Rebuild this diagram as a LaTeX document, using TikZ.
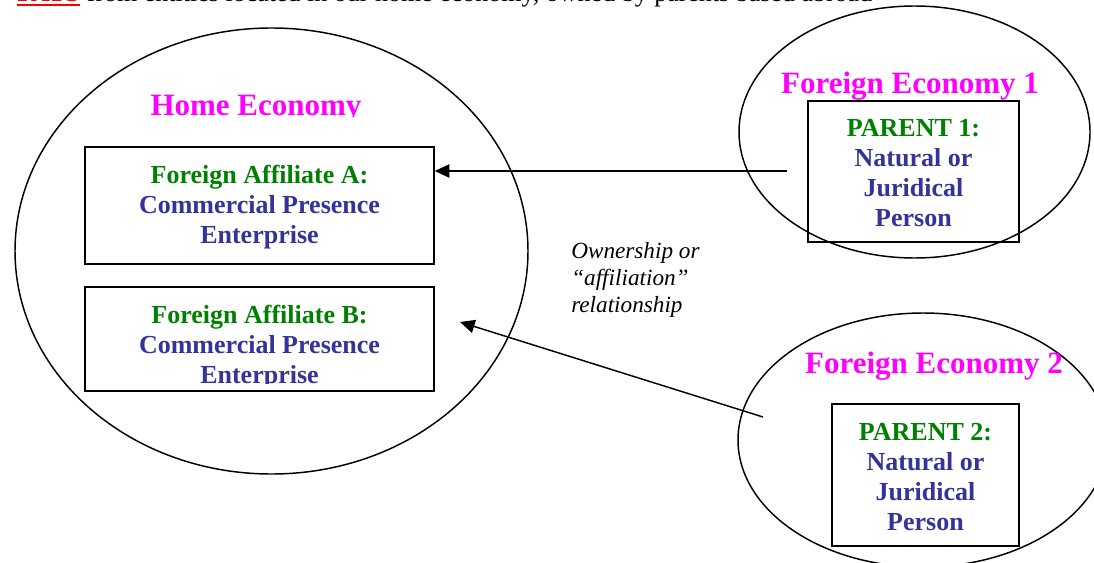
\documentclass[tikz,border=0pt]{standalone}
\usepackage{fontspec}
\setmainfont{Liberation Serif}
\usetikzlibrary{shapes.geometric,arrows.meta}
\definecolor{mag}{RGB}{255,0,255}
\definecolor{grn}{RGB}{0,128,0}
\definecolor{blu}{RGB}{51,51,153}
\begin{document}
\begin{tikzpicture}[x=0.75pt,y=-0.75pt,
  ell/.style={draw, ellipse, line width=1.1pt, inner sep=0pt},
  boxnode/.style={draw, rectangle, line width=1.1pt, inner sep=0pt},
  boxtext/.style={font=\fontsize{19.5}{22.5}\selectfont\bfseries, text=blu, align=center, inner sep=0pt},
  title/.style={font=\fontsize{23.25}{28}\selectfont\bfseries, text=mag, inner sep=0pt, anchor=base},
  arr/.style={line width=1.1pt, -{Triangle[length=11pt,width=10pt]}},
  note/.style={font=\fontsize{17.4}{20.25}\selectfont\itshape, align=left, inner sep=0pt, anchor=base west},
  toptext/.style={font=\fontsize{19.5}{22}\selectfont, inner sep=0pt, anchor=base west}
]
\useasboundingbox (0,0) rectangle (1094,563);
\clip (0,0) rectangle (1094,563);

% top (cut-off) text
\node[toptext, text=red, font=\fontsize{19.5}{22}\selectfont\bfseries] (fats) at (17,2) {FATS};
\node[toptext] (intro) at (fats.base east) {\ from entities located in our home economy, owned by parents based abroad};
\draw[red, line width=1.5pt] ([yshift=-2pt]fats.base west) -- ([yshift=-2pt]fats.base east);

% ellipses
\node[ell, minimum width=384.75pt, minimum height=334.5pt] (home) at (271.5,251) {};
\node[ell, minimum width=263.25pt, minimum height=189pt] (fe1) at (914.5,132) {};
\node[ell, minimum width=277.5pt, minimum height=190.5pt] (fe2) at (923,440) {};

% titles
\begin{scope}
  \clip (0,0) rectangle (540,117);
  \node[title] (hometitle) at (256,116) {Home Economy};
\end{scope}
\node[title] (fe1title) at (910,94) {Foreign Economy 1};
\node[title] (fe2title) at (934,373) {Foreign Economy 2};

% boxes
\node[boxnode, minimum width=261.75pt, minimum height=87.75pt] (boxA) at (259.5,205.5) {};
\node[boxtext] (atext) at (259.5,207.5)
  {\textcolor{grn}{Foreign Affiliate A:}\\Commercial Presence\\Enterprise};
\node[boxnode, minimum width=261.75pt, minimum height=78pt] (boxB) at (259.5,339) {};
\begin{scope}
  \clip (85,287) rectangle (434,383);
  \node[boxtext] (btext) at (259.5,347)
    {\textcolor{grn}{Foreign Affiliate B:}\\Commercial Presence\\Enterprise};
\end{scope}
\node[boxnode, minimum width=158.25pt, minimum height=105.75pt] (par1) at (913.5,171.5) {};
\node[boxtext] (p1text) at (913.5,173.5)
  {\textcolor{grn}{PARENT 1:}\\Natural or\\Juridical\\Person};
\node[boxnode, minimum width=140.25pt, minimum height=106.5pt] (par2) at (925.5,475) {};
\node[boxtext] (p2text) at (925.5,477.5)
  {\textcolor{grn}{PARENT 2:}\\Natural or\\Juridical\\Person};

% label (base anchor = last line's baseline)
\node[note] (lbl) at (571,312) {Ownership or\\“affiliation”\\relationship};

% connectors
\coordinate (s1) at (787,171);
\draw[arr] (s1) -- (boxA.east |- s1);
\coordinate (s2) at (763,417);
\coordinate (e2) at (460,322);
\draw[arr] (s2) -- (e2);
\end{tikzpicture}
\end{document}
